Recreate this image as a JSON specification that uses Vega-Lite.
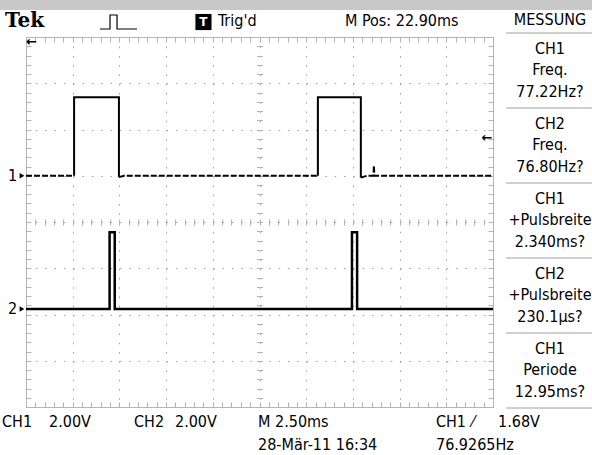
{
  "$schema": "https://vega.github.io/schema/vega-lite/v6.json",
  "width": 467,
  "height": 370,
  "autosize": "none",
  "padding": {"left": 26, "top": 37, "right": 99, "bottom": 48},
  "background": "white",
  "config": {
    "view": {"stroke": "#b4b4b4", "strokeWidth": 1},
    "font": "Liberation Sans Narrow, DejaVu Sans Condensed, Liberation Sans, sans-serif",
    "text": {"font": "Liberation Sans Narrow, DejaVu Sans Condensed, Liberation Sans, sans-serif", "fontSize": 16, "color": "#000000"}
  },
  "datasets": {
    "ch1": [
      {"seg": "a", "part": "baseline", "t": 0, "v": 5.0}, {"seg": "a", "part": "baseline", "t": 1.03, "v": 5.0},
      {"seg": "b", "part": "pulse", "t": 1.03, "v": 5.0}, {"seg": "b", "part": "pulse", "t": 1.03, "v": 6.7},
      {"seg": "b", "part": "pulse", "t": 1.99, "v": 6.7}, {"seg": "b", "part": "pulse", "t": 1.99, "v": 4.97},
      {"seg": "c", "part": "baseline", "t": 1.99, "v": 4.97}, {"seg": "c", "part": "baseline", "t": 2.1, "v": 5.0},
      {"seg": "c", "part": "baseline", "t": 6.25, "v": 5.0},
      {"seg": "d", "part": "pulse", "t": 6.25, "v": 5.0}, {"seg": "d", "part": "pulse", "t": 6.25, "v": 6.7},
      {"seg": "d", "part": "pulse", "t": 7.17, "v": 6.7}, {"seg": "d", "part": "pulse", "t": 7.17, "v": 4.96},
      {"seg": "e", "part": "baseline", "t": 7.17, "v": 4.96}, {"seg": "e", "part": "baseline", "t": 7.3, "v": 5.0},
      {"seg": "e", "part": "baseline", "t": 7.44, "v": 5.0}, {"seg": "e", "part": "baseline", "t": 7.45, "v": 5.22},
      {"seg": "e", "part": "baseline", "t": 7.46, "v": 5.0}, {"seg": "e", "part": "baseline", "t": 10, "v": 5.0}
    ],
    "ch2": [
      {"t": 0, "v": 2.12}, {"t": 1.79, "v": 2.12}, {"t": 1.79, "v": 3.78}, {"t": 1.9, "v": 3.78},
      {"t": 1.9, "v": 2.12}, {"t": 6.98, "v": 2.12}, {"t": 6.98, "v": 3.78}, {"t": 7.09, "v": 3.78},
      {"t": 7.09, "v": 2.12}, {"t": 10, "v": 2.12}
    ],
    "panel": [
      {"s": "MESSUNG", "y": 8.368},
      {"s": "CH1", "y": 7.741}, {"s": "Freq.", "y": 7.286}, {"s": "77.22Hz?", "y": 6.811},
      {"s": "CH2", "y": 6.119}, {"s": "Freq.", "y": 5.665}, {"s": "76.80Hz?", "y": 5.189},
      {"s": "CH1", "y": 4.497}, {"s": "+Pulsbreite", "y": 4.043}, {"s": "2.340ms?", "y": 3.568},
      {"s": "CH2", "y": 2.876}, {"s": "+Pulsbreite", "y": 2.422}, {"s": "230.1µs?", "y": 1.946},
      {"s": "CH1", "y": 1.254}, {"s": "Periode", "y": 0.8}, {"s": "12.95ms?", "y": 0.324}
    ],
    "seps": [{"y": 8.086}, {"y": 6.465}, {"y": 4.843}, {"y": 3.222}, {"y": 1.6}, {"y": -0.022}],
    "status": [
      {"s": "Trig'd", "x": 4.11, "y": 8.346},
      {"s": "M Pos: 22.90ms", "x": 6.83, "y": 8.346},
      {"s": "CH1", "x": -0.514, "y": -0.324},
      {"s": "2.00V", "x": 0.4925, "y": -0.324},
      {"s": "CH2", "x": 2.313, "y": -0.324},
      {"s": "2.00V", "x": 3.19, "y": -0.324},
      {"s": "M 2.50ms", "x": 4.968, "y": -0.324},
      {"s": "CH1", "x": 8.779, "y": -0.324},
      {"s": "⁄", "x": 9.55, "y": -0.324},
      {"s": "1.68V", "x": 10.107, "y": -0.324},
      {"s": "28-Mär-11 16:34", "x": 4.968, "y": -0.822},
      {"s": "76.9265Hz", "x": 8.779, "y": -0.822}
    ],
    "markers": [{"s": "1", "y": 5.0}, {"s": "2", "y": 2.12}],
    "arrows": [{"x": 0.118, "y": 7.9}, {"x": 9.87, "y": 5.816}],
    "icon": [
      {"t": 1.585, "v": 8.173}, {"t": 1.799, "v": 8.173}, {"t": 1.799, "v": 8.476},
      {"t": 1.949, "v": 8.476}, {"t": 1.949, "v": 8.173}, {"t": 2.377, "v": 8.173}
    ]
  },
  "resolve": {"axis": {"x": "independent", "y": "independent"}},
  "layer": [
    {
      "data": {"values": [{}]},
      "mark": {"type": "rect", "color": "#c8c8c8"},
      "encoding": {
        "x": {"datum": -0.6, "type": "quantitative", "scale": {"domain": [0, 10], "nice": false, "zero": false}, "axis": null},
        "x2": {"datum": 12.5},
        "y": {"datum": 8.8, "type": "quantitative", "scale": {"domain": [0, 8], "nice": false, "zero": false}, "axis": null},
        "y2": {"datum": 8.584}
      }
    },
    {
      "data": {"name": "ch1"},
      "mark": {"type": "line", "color": "#000000", "strokeWidth": 2, "interpolate": "linear"},
      "encoding": {
        "x": {"field": "t", "type": "quantitative", "scale": {"domain": [0, 10], "nice": false, "zero": false},
          "axis": {"orient": "bottom", "values": [1, 2, 3, 4, 5, 6, 7, 8, 9], "grid": true, "gridDash": [1.5, 7.75], "gridColor": "#a0a0a0", "gridWidth": 1, "ticks": false, "labels": false, "domain": false, "title": null}},
        "y": {"field": "v", "type": "quantitative", "scale": {"domain": [0, 8], "nice": false, "zero": false},
          "axis": {"orient": "left", "values": [1, 2, 3, 4, 5, 6, 7], "grid": true, "gridDash": [1.5, 7.84], "gridColor": "#a0a0a0", "gridWidth": 1, "ticks": false, "labels": false, "domain": false, "title": null}},
        "detail": {"field": "seg"},
        "strokeDash": {"field": "part", "type": "nominal", "scale": {"domain": ["pulse", "baseline"], "range": [[1, 0], [6, 2]]}, "legend": null},
        "order": {"value": null}
      }
    },
    {
      "data": {"name": "ch2"},
      "mark": {"type": "line", "color": "#000000", "strokeWidth": 2.5, "interpolate": "linear"},
      "encoding": {
        "x": {"field": "t", "type": "quantitative", "scale": {"domain": [0, 10], "nice": false, "zero": false},
          "axis": {"orient": "bottom", "values": [0,0.2,0.4,0.6,0.8,1,1.2,1.4,1.6,1.8,2,2.2,2.4,2.6,2.8,3,3.2,3.4,3.6,3.8,4,4.2,4.4,4.6,4.8,5,5.2,5.4,5.6,5.8,6,6.2,6.4,6.6,6.8,7,7.2,7.4,7.6,7.8,8,8.2,8.4,8.6,8.8,9,9.2,9.4,9.6,9.8,10], "grid": false, "ticks": true, "tickSize": -5, "tickColor": "#b4b4b4", "tickWidth": 1, "labels": false, "domain": false, "title": null}},
        "y": {"field": "v", "type": "quantitative", "scale": {"domain": [0, 8], "nice": false, "zero": false},
          "axis": {"orient": "left", "values": [0,0.2,0.4,0.6,0.8,1,1.2,1.4,1.6,1.8,2,2.2,2.4,2.6,2.8,3,3.2,3.4,3.6,3.8,4,4.2,4.4,4.6,4.8,5,5.2,5.4,5.6,5.8,6,6.2,6.4,6.6,6.8,7,7.2,7.4,7.6,7.8,8], "grid": false, "ticks": true, "tickSize": -5, "tickColor": "#b4b4b4", "tickWidth": 1, "labels": false, "domain": false, "title": null}},
        "order": {"value": null}
      }
    },
    {
      "data": {"name": "ch2"},
      "mark": {"type": "point", "opacity": 0},
      "encoding": {
        "x": {"field": "t", "type": "quantitative", "scale": {"domain": [0, 10], "nice": false, "zero": false},
          "axis": {"orient": "top", "values": [0,0.2,0.4,0.6,0.8,1,1.2,1.4,1.6,1.8,2,2.2,2.4,2.6,2.8,3,3.2,3.4,3.6,3.8,4,4.2,4.4,4.6,4.8,5,5.2,5.4,5.6,5.8,6,6.2,6.4,6.6,6.8,7,7.2,7.4,7.6,7.8,8,8.2,8.4,8.6,8.8,9,9.2,9.4,9.6,9.8,10], "grid": false, "ticks": true, "tickSize": -5, "tickColor": "#b4b4b4", "tickWidth": 1, "labels": false, "domain": false, "title": null}},
        "y": {"field": "v", "type": "quantitative", "scale": {"domain": [0, 8], "nice": false, "zero": false},
          "axis": {"orient": "right", "values": [0,0.2,0.4,0.6,0.8,1,1.2,1.4,1.6,1.8,2,2.2,2.4,2.6,2.8,3,3.2,3.4,3.6,3.8,4,4.2,4.4,4.6,4.8,5,5.2,5.4,5.6,5.8,6,6.2,6.4,6.6,6.8,7,7.2,7.4,7.6,7.8,8], "grid": false, "ticks": true, "tickSize": -5, "tickColor": "#b4b4b4", "tickWidth": 1, "labels": false, "domain": false, "title": null}}
      }
    },
    {
      "data": {"name": "ch2"},
      "mark": {"type": "point", "opacity": 0},
      "encoding": {
        "x": {"field": "t", "type": "quantitative", "scale": {"domain": [0, 10], "nice": false, "zero": false},
          "axis": {"orient": "bottom", "offset": -188, "values": [0,0.2,0.4,0.6,0.8,1,1.2,1.4,1.6,1.8,2,2.2,2.4,2.6,2.8,3,3.2,3.4,3.6,3.8,4,4.2,4.4,4.6,4.8,5,5.2,5.4,5.6,5.8,6,6.2,6.4,6.6,6.8,7,7.2,7.4,7.6,7.8,8,8.2,8.4,8.6,8.8,9,9.2,9.4,9.6,9.8,10], "grid": false, "ticks": true, "tickSize": 6, "tickColor": "#b4b4b4", "tickWidth": 1, "labels": false, "domain": false, "title": null}},
        "y": {"field": "v", "type": "quantitative", "scale": {"domain": [0, 8], "nice": false, "zero": false},
          "axis": {"orient": "left", "offset": -236.5, "values": [0,0.2,0.4,0.6,0.8,1,1.2,1.4,1.6,1.8,2,2.2,2.4,2.6,2.8,3,3.2,3.4,3.6,3.8,4,4.2,4.4,4.6,4.8,5,5.2,5.4,5.6,5.8,6,6.2,6.4,6.6,6.8,7,7.2,7.4,7.6,7.8,8], "grid": false, "ticks": true, "tickSize": 6, "tickColor": "#b4b4b4", "tickWidth": 1, "labels": false, "domain": false, "title": null}}
      }
    },
    {
      "data": {"name": "icon"},
      "mark": {"type": "line", "color": "#000000", "strokeWidth": 1.2},
      "encoding": {
        "x": {"field": "t", "type": "quantitative", "scale": {"domain": [0, 10], "nice": false, "zero": false}, "axis": null},
        "y": {"field": "v", "type": "quantitative", "scale": {"domain": [0, 8], "nice": false, "zero": false}, "axis": null},
        "order": {"value": null}
      }
    },
    {
      "data": {"name": "markers"},
      "mark": {"type": "text", "align": "center", "baseline": "middle", "fontSize": 16},
      "encoding": {
        "x": {"datum": -0.289, "type": "quantitative", "scale": {"domain": [0, 10], "nice": false, "zero": false}, "axis": null},
        "y": {"field": "y", "type": "quantitative", "scale": {"domain": [0, 8], "nice": false, "zero": false}, "axis": null},
        "text": {"field": "s"}
      }
    },
    {
      "data": {"name": "markers"},
      "mark": {"type": "point", "shape": "triangle-right", "filled": true, "color": "#000000", "size": 30, "opacity": 1},
      "encoding": {
        "x": {"datum": -0.086, "type": "quantitative", "scale": {"domain": [0, 10], "nice": false, "zero": false}, "axis": null},
        "y": {"field": "y", "type": "quantitative", "scale": {"domain": [0, 8], "nice": false, "zero": false}, "axis": null}
      }
    },
    {
      "data": {"name": "arrows"},
      "mark": {"type": "text", "text": "←", "font": "DejaVu Sans", "fontWeight": "bold", "fontSize": 13, "align": "center", "baseline": "middle"},
      "encoding": {
        "x": {"field": "x", "type": "quantitative", "scale": {"domain": [0, 10], "nice": false, "zero": false}, "axis": null},
        "y": {"field": "y", "type": "quantitative", "scale": {"domain": [0, 8], "nice": false, "zero": false}, "axis": null}
      }
    },
    {
      "data": {"values": [{"s": "Tek"}]},
      "mark": {"type": "text", "font": "DejaVu Serif", "fontWeight": "bold", "fontSize": 20, "align": "left", "baseline": "middle"},
      "encoding": {
        "x": {"datum": -0.45, "type": "quantitative", "scale": {"domain": [0, 10], "nice": false, "zero": false}, "axis": null},
        "y": {"datum": 8.35, "type": "quantitative", "scale": {"domain": [0, 8], "nice": false, "zero": false}, "axis": null},
        "text": {"field": "s"}
      }
    },
    {
      "data": {"values": [{}]},
      "mark": {"type": "point", "shape": "square", "filled": true, "color": "#000000", "size": 260, "opacity": 1},
      "encoding": {
        "x": {"datum": 3.8, "type": "quantitative", "scale": {"domain": [0, 10], "nice": false, "zero": false}, "axis": null},
        "y": {"datum": 8.324, "type": "quantitative", "scale": {"domain": [0, 8], "nice": false, "zero": false}, "axis": null}
      }
    },
    {
      "data": {"values": [{"s": "T"}]},
      "mark": {"type": "text", "font": "DejaVu Sans", "fontWeight": "bold", "fontSize": 12, "color": "#ffffff", "align": "center", "baseline": "middle"},
      "encoding": {
        "x": {"datum": 3.8, "type": "quantitative", "scale": {"domain": [0, 10], "nice": false, "zero": false}, "axis": null},
        "y": {"datum": 8.324, "type": "quantitative", "scale": {"domain": [0, 8], "nice": false, "zero": false}, "axis": null},
        "text": {"field": "s"}
      }
    },
    {
      "data": {"name": "status"},
      "mark": {"type": "text", "align": "left", "baseline": "middle", "fontSize": 16},
      "encoding": {
        "x": {"field": "x", "type": "quantitative", "scale": {"domain": [0, 10], "nice": false, "zero": false}, "axis": null},
        "y": {"field": "y", "type": "quantitative", "scale": {"domain": [0, 8], "nice": false, "zero": false}, "axis": null},
        "text": {"field": "s"}
      }
    },
    {
      "data": {"name": "panel"},
      "mark": {"type": "text", "align": "center", "baseline": "middle", "fontSize": 16},
      "encoding": {
        "x": {"datum": 11.22, "type": "quantitative", "scale": {"domain": [0, 10], "nice": false, "zero": false}, "axis": null},
        "y": {"field": "y", "type": "quantitative", "scale": {"domain": [0, 8], "nice": false, "zero": false}, "axis": null},
        "text": {"field": "s"}
      }
    },
    {
      "data": {"name": "seps"},
      "mark": {"type": "rule", "color": "#a0a0a0", "strokeWidth": 1},
      "encoding": {
        "x": {"datum": 10.28, "type": "quantitative", "scale": {"domain": [0, 10], "nice": false, "zero": false}, "axis": null},
        "x2": {"datum": 12.4},
        "y": {"field": "y", "type": "quantitative", "scale": {"domain": [0, 8], "nice": false, "zero": false}, "axis": null}
      }
    }
  ]
}
